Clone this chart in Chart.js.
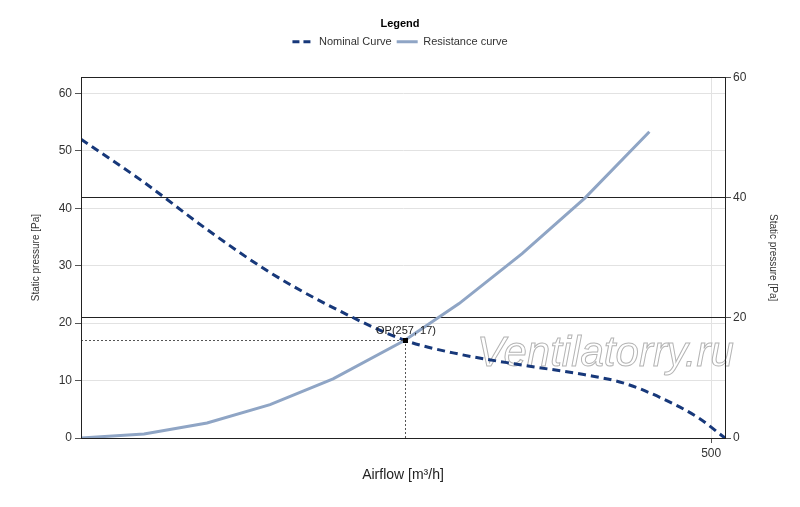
<!DOCTYPE html>
<html>
<head>
<meta charset="utf-8">
<script src="https://cdn.jsdelivr.net/npm/chart.js@4"></script>
<style>
  html, body { margin: 0; padding: 0; background: #fff; }
  #wrap { width: 800px; height: 507px; }
</style>
</head>
<body>
<div id="wrap"><canvas id="fanChart"></canvas></div>
<script>
// ─── Data ───
const nominalFlow = [0, 50, 100, 150, 200, 257, 300, 350, 400, 430, 460, 490, 511];
const nominalPressure = [52, 44.5, 36.3, 28.8, 22.7, 17, 14.6, 12.7, 11, 9.6, 7, 3.5, 0];

const resistanceFlow = [0, 50, 100, 150, 200, 257, 300, 350, 400, 451];
const resistancePressure = [0, 0.7, 2.6, 5.8, 10.3, 17, 23.4, 32.1, 41.8, 53.3];

const opFlow = 257;
const opPressure = 17;

const xTicks = [500];
const leftTicks = [0, 10, 20, 30, 40, 50, 60];
const rightTicks = [0, 20, 40, 60];

const FONT = "'Liberation Sans', Arial, sans-serif";

// push the plot down below the legend
const legendSpacer = {
    id: 'legendSpacer',
    beforeInit: (chart) => {
        const fit = chart.legend.fit;
        chart.legend.fit = function () {
            fit.bind(chart.legend)();
            this.height += 20;
        };
    }
};

// operating point guides + label
const opPlugin = {
    id: 'opGuides',
    afterDatasetsDraw: (chart) => {
        const ctx = chart.ctx;
        const x = Math.round(chart.scales.x.getPixelForValue(opFlow));
        const y = Math.round(chart.scales.y.getPixelForValue(opPressure));
        const area = chart.chartArea;
        ctx.save();
        ctx.strokeStyle = '#555';
        ctx.lineWidth = 1;
        ctx.setLineDash([2, 2]);
        ctx.beginPath();
        ctx.moveTo(area.left, y + 0.5);
        ctx.lineTo(x, y + 0.5);
        ctx.moveTo(x + 0.5, y);
        ctx.lineTo(x + 0.5, area.bottom);
        ctx.stroke();
        ctx.setLineDash([]);
        ctx.fillStyle = '#000';
        ctx.fillRect(x - 2, y - 2, 5, 5);
        ctx.font = '11px ' + FONT;
        ctx.fillStyle = '#222';
        ctx.textAlign = 'center';
        ctx.textBaseline = 'alphabetic';
        ctx.fillText(`OP(${opFlow}, ${opPressure})`, x + 1, y - 6);
        ctx.restore();
    }
};

// site watermark, behind the curves
const watermarkPlugin = {
    id: 'watermark',
    beforeDatasetsDraw: (chart) => {
        const ctx = chart.ctx;
        ctx.save();
        ctx.font = 'italic 42px ' + FONT;
        ctx.textAlign = 'left';
        ctx.textBaseline = 'alphabetic';
        ctx.fillStyle = 'rgba(255,255,255,0.75)';
        ctx.strokeStyle = '#b4b4b4';
        ctx.lineWidth = 1;
        ctx.fillText('Ventilatorry.ru', 477, 366);
        ctx.strokeText('Ventilatorry.ru', 477, 366);
        ctx.restore();
    }
};

// box round the plot area
const framePlugin = {
    id: 'frame',
    afterDraw: (chart) => {
        const { left, right, top, bottom } = chart.chartArea;
        const ctx = chart.ctx;
        ctx.save();
        ctx.strokeStyle = '#222';
        ctx.lineWidth = 1;
        ctx.strokeRect(Math.round(left) + 0.5, Math.round(top) + 0.5, Math.round(right - left), Math.round(bottom - top));
        ctx.restore();
    }
};

Chart.defaults.font.family = FONT;
Chart.defaults.color = '#333';

const ctx = document.getElementById('fanChart').getContext('2d');
new Chart(ctx, {
    type: 'line',
    data: {
        datasets: [{
            label: 'Nominal Curve',
            data: nominalFlow.map((q, i) => ({ x: q, y: nominalPressure[i] })),
            borderColor: '#17387a',
            backgroundColor: 'transparent',
            borderWidth: 3,
            borderDash: [8, 5],
            pointRadius: 0,
            cubicInterpolationMode: 'monotone',
            yAxisID: 'y',
            order: 1
        }, {
            label: 'Resistance curve',
            data: resistanceFlow.map((q, i) => ({ x: q, y: resistancePressure[i] })),
            borderColor: '#8fa5c5',
            backgroundColor: 'transparent',
            borderWidth: 3,
            pointRadius: 0,
            tension: 0,
            yAxisID: 'y',
            order: 2
        }]
    },
    options: {
        responsive: true,
        maintainAspectRatio: false,
        animation: false,
        layout: { padding: 0 },
        plugins: {
            legend: {
                position: 'top',
                title: { display: true, text: 'Legend', color: '#000', font: { size: 11, weight: 'bold' }, padding: { top: 18, bottom: 0 } },
                labels: {
                    usePointStyle: true,
                    pointStyleWidth: 21,
                    color: '#333',
                    font: { size: 11 },
                    padding: 5,
                    generateLabels: (chart) => {
                        const items = Chart.defaults.plugins.legend.labels.generateLabels(chart);
                        items.forEach((it, i) => {
                            const ds = chart.data.datasets[i];
                            it.pointStyle = 'line';
                            it.lineDash = ds.borderDash ? [7, 4] : [];
                            it.lineWidth = 3;
                            it.strokeStyle = ds.borderColor;
                            it.fillStyle = ds.borderColor;
                        });
                        return items;
                    }
                }
            },
            tooltip: { enabled: false }
        },
        scales: {
            x: {
                type: 'linear',
                min: 0,
                max: 511,
                afterBuildTicks: s => { s.ticks = xTicks.map(v => ({ value: v })); },
                afterFit: s => { s.height = 69; },
                grid: { color: '#e2e2e2', tickColor: '#555', tickLength: 5 },
                border: { color: '#222' },
                ticks: { color: '#333', font: { size: 12 }, padding: 3, maxRotation: 0 },
                title: { display: true, text: 'Airflow [m³/h]', color: '#222', font: { size: 14 }, padding: { top: 0, bottom: 23 } }
            },
            y: {
                type: 'linear',
                position: 'left',
                min: 0,
                max: 62.8,
                afterBuildTicks: s => { s.ticks = leftTicks.map(v => ({ value: v })); },
                afterFit: s => { s.width = 81; },
                grid: { color: '#e2e2e2', tickColor: '#555', tickLength: 6 },
                border: { color: '#222' },
                ticks: { color: '#333', font: { size: 12 }, padding: 3 },
                title: { display: true, text: 'Static pressure [Pa]', color: '#333', font: { size: 10 }, padding: { top: 30, bottom: 0 } }
            },
            y2: {
                type: 'linear',
                position: 'right',
                min: 0,
                max: 60,
                afterBuildTicks: s => { s.ticks = rightTicks.map(v => ({ value: v })); },
                afterFit: s => { s.width = 75; },
                grid: { color: '#222', tickColor: '#555', tickLength: 6, drawOnChartArea: true },
                border: { color: '#222' },
                ticks: { color: '#333', font: { size: 12 }, padding: 2 },
                title: { display: true, text: 'Static pressure [Pa]', color: '#333', font: { size: 10 }, padding: { top: 21, bottom: 0 } }
            }
        }
    },
    plugins: [legendSpacer, watermarkPlugin, opPlugin, framePlugin]
});
</script>
</body>
</html>
